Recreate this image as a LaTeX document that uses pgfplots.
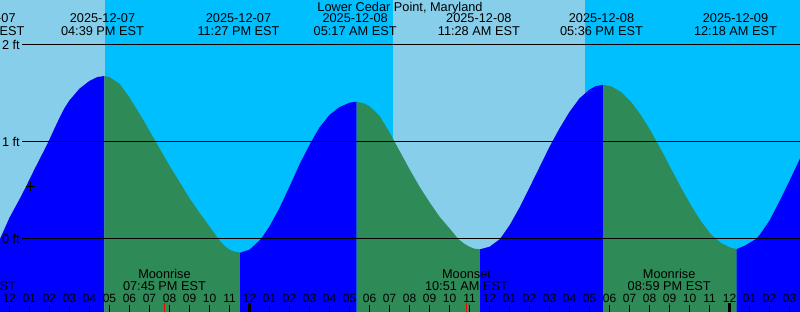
\documentclass[border=0pt]{standalone}
\usepackage{pgfplots}
\pgfplotsset{compat=1.18}
\usepackage{fontspec}
\setmainfont{Liberation Sans}
\definecolor{day}{RGB}{135,206,235}
\definecolor{night}{RGB}{0,191,255}
\definecolor{flood}{RGB}{0,0,255}
\definecolor{ebb}{RGB}{46,139,87}
\newcommand\lf{\fontsize{12.8}{15}\selectfont}
\begin{document}
\begin{tikzpicture}[font=\lf]
\path[use as bounding box] (0,0) rectangle (800bp,312bp);
\clip (0,0) rectangle (800bp,312bp);
\begin{axis}[at={(0,0)}, anchor=south west, scale only axis,
  width=800bp, height=312bp,
  xmin=-0.475, xmax=39.525, ymin=-0.75258, ymax=2.46392,
  axis line style={draw=none}, ytick=\empty,
  xtick={0,...,39}, xticklabels={}, xtick pos=lower,
  tick align=inside, major tick length=7bp,
  tick style={black, line width=1bp},
  axis on top]
% day / night background
\addplot[fill=day, draw=none] coordinates {(-1,-0.8) (-1,2.5) (4.775,2.5) (4.775,-0.8)};
\addplot[fill=night, draw=none] coordinates {(4.775,-0.8) (4.775,2.5) (19.16,2.5) (19.16,-0.8)};
\addplot[fill=day, draw=none] coordinates {(19.16,-0.8) (19.16,2.5) (28.775,2.5) (28.775,-0.8)};
\addplot[fill=night, draw=none] coordinates {(28.775,-0.8) (28.775,2.5) (41,2.5) (41,-0.8)};
% tide: rising (flood) and falling (ebb)
\addplot[fill=flood, draw=none] coordinates {(-0.5,-0.01) (-0.275,0.093) (0,0.22) (0.5,0.41) (0.825,0.54) (1.25,0.72) (1.5,0.82) (1.94,1.0) (2.25,1.14) (2.525,1.26) (2.75,1.35) (3,1.43) (3.5,1.55) (4,1.63) (4.4,1.67) (4.74,1.68) (4.74,-0.8) (-0.5,-0.8)};
\addplot[fill=ebb, draw=none] coordinates {(4.74,1.68) (5,1.67) (5.5,1.60) (6,1.46) (6.5,1.29) (6.69,1.227) (7,1.115) (7.5,0.935) (8,0.755) (8.525,0.58) (9,0.42) (9.5,0.27) (10,0.13) (10.44,0.0) (10.75,-0.07) (11,-0.11) (11.25,-0.13) (11.525,-0.141) (11.525,-0.8) (4.74,-0.8)};
\addplot[fill=flood, draw=none] coordinates {(11.525,-0.141) (12,-0.11) (12.575,0.0) (13,0.13) (13.5,0.32) (14,0.54) (14.525,0.78) (15.075,1.0) (15.5,1.15) (16,1.28) (16.5,1.36) (17,1.405) (17.36,1.415) (17.36,-0.8) (11.525,-0.8)};
\addplot[fill=ebb, draw=none] coordinates {(17.36,1.415) (17.75,1.395) (18,1.37) (18.5,1.27) (19,1.10) (19.525,0.90) (20,0.72) (20.5,0.54) (21,0.38) (21.5,0.23) (22,0.11) (22.44,0.0) (22.75,-0.05) (23,-0.08) (23.25,-0.10) (23.525,-0.106) (23.525,-0.8) (17.36,-0.8)};
\addplot[fill=flood, draw=none] coordinates {(23.525,-0.106) (24,-0.08) (24.525,0.0) (25,0.14) (25.525,0.333) (26,0.53) (26.5,0.74) (27,0.95) (27.5,1.14) (28,1.31) (28.5,1.45) (29,1.54) (29.3,1.575) (29.675,1.59) (29.675,-0.8) (23.525,-0.8)};
\addplot[fill=ebb, draw=none] coordinates {(29.675,1.59) (30.075,1.575) (30.575,1.516) (31.075,1.414) (31.575,1.276) (32.075,1.109) (32.575,0.922) (33.075,0.725) (33.575,0.53) (34.075,0.346) (34.575,0.183) (35.075,0.047) (35.575,-0.041) (36.075,-0.092) (36.36,-0.103) (36.36,-0.8) (29.675,-0.8)};
\addplot[fill=flood, draw=none] coordinates {(36.36,-0.103) (36.75,-0.07) (37,-0.04) (37.325,0.0) (37.5,0.04) (38,0.19) (38.5,0.39) (39,0.60) (39.525,0.83) (40,1.02) (40,-0.8) (36.36,-0.8)};
% datum lines
\addplot[black, line width=1bp] coordinates {(0.625,2) (40,2)};
\addplot[black, line width=1bp] coordinates {(0.625,1) (40,1)};
\addplot[black, line width=1bp] coordinates {(0.625,0) (40,0)};
\node[anchor=base east, inner sep=0] at (axis cs:0.525,1.9557) {2 ft};
\node[anchor=base east, inner sep=0] at (axis cs:0.525,0.9557) {1 ft};
\node[anchor=base east, inner sep=0] at (axis cs:0.525,-0.0443) {0 ft};
% current time mark
\addplot[only marks, mark=+, mark size=4.5bp, black, line width=1bp] coordinates {(1.025,0.539)};
% special ticks
\addplot[black, line width=3bp] coordinates {(12,-0.8) (12,-0.66)};
\addplot[black, line width=3bp] coordinates {(36,-0.8) (36,-0.66)};
\addplot[red, line width=1bp] coordinates {(7.75,-0.8) (7.75,-0.66)};
\addplot[red, line width=1bp] coordinates {(22.85,-0.8) (22.85,-0.66)};
\addplot[red, line width=1bp] coordinates {(32.983,-0.8) (32.983,-0.66)};
% hour labels
\pgfplotsinvokeforeach{0,...,39}{
  \node[anchor=base, inner sep=0, font=\fontsize{12}{14}\selectfont] at (axis cs:#1,-0.657) {\pgfmathtruncatemacro\hh{mod(#1+11,12)+1}\ifnum\hh<10 0\fi\hh};
}
% title
\node[anchor=base, inner sep=0] at (axis cs:19.525,2.3402) {Lower Cedar Point, Maryland};
% tide event labels
\node[anchor=base, inner sep=0] at (axis cs:-1.325,2.2268) {2025-12-07};
\node[anchor=base, inner sep=0] at (axis cs:-1.325,2.0979) {10:40 AM EST};
\node[anchor=base, inner sep=0] at (axis cs:4.65,2.2268) {2025-12-07};
\node[anchor=base, inner sep=0] at (axis cs:4.65,2.0979) {04:39 PM EST};
\node[anchor=base, inner sep=0] at (axis cs:11.45,2.2268) {2025-12-07};
\node[anchor=base, inner sep=0] at (axis cs:11.45,2.0979) {11:27 PM EST};
\node[anchor=base, inner sep=0] at (axis cs:17.283,2.2268) {2025-12-08};
\node[anchor=base, inner sep=0] at (axis cs:17.283,2.0979) {05:17 AM EST};
\node[anchor=base, inner sep=0] at (axis cs:23.467,2.2268) {2025-12-08};
\node[anchor=base, inner sep=0] at (axis cs:23.467,2.0979) {11:28 AM EST};
\node[anchor=base, inner sep=0] at (axis cs:29.6,2.2268) {2025-12-08};
\node[anchor=base, inner sep=0] at (axis cs:29.6,2.0979) {05:36 PM EST};
\node[anchor=base, inner sep=0] at (axis cs:36.3,2.2268) {2025-12-09};
\node[anchor=base, inner sep=0] at (axis cs:36.3,2.0979) {12:18 AM EST};
% moon event labels
\node[anchor=base, inner sep=0] at (axis cs:-1.75,-0.405) {Moonset};
\node[anchor=base, inner sep=0] at (axis cs:-1.75,-0.526) {10:15 AM EST};
\node[anchor=base, inner sep=0] at (axis cs:7.75,-0.405) {Moonrise};
\node[anchor=base, inner sep=0] at (axis cs:7.75,-0.526) {07:45 PM EST};
\node[anchor=base, inner sep=0] at (axis cs:22.85,-0.405) {Moonset};
\node[anchor=base, inner sep=0] at (axis cs:22.85,-0.526) {10:51 AM EST};
\node[anchor=base, inner sep=0] at (axis cs:32.983,-0.405) {Moonrise};
\node[anchor=base, inner sep=0] at (axis cs:32.983,-0.526) {08:59 PM EST};
\end{axis}
\end{tikzpicture}
\end{document}
